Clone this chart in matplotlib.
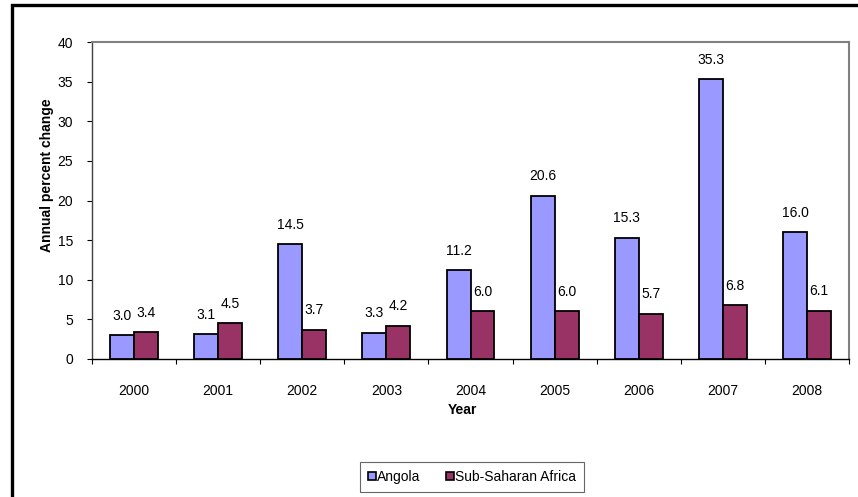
import matplotlib
matplotlib.use("Agg")
import matplotlib.pyplot as plt
import numpy as np
from matplotlib.patches import Rectangle
from matplotlib.lines import Line2D

years = ["2000", "2001", "2002", "2003", "2004", "2005", "2006", "2007", "2008"]
angola = [3.0, 3.1, 14.5, 3.3, 11.2, 20.6, 15.3, 35.3, 16.0]
ssa = [3.4, 4.5, 3.7, 4.2, 6.0, 6.0, 5.7, 6.8, 6.1]
series_names = ["Angola", "Sub-Saharan Africa"]
colors = ["#9999FF", "#993366"]

plt.rcParams['font.family'] = ['Liberation Sans', 'DejaVu Sans']
FS = 10

W, H = 858, 497
fig = plt.figure(figsize=(W / 100, H / 100), dpi=100)
ax = fig.add_axes([92 / W, 1 - 359 / H, (849 - 92) / W, (359 - 42) / H])

x = np.arange(len(years))
bw = 0.285
b1 = ax.bar(x - bw / 2, angola, bw, color=colors[0], edgecolor='black', linewidth=1.3, zorder=3)
b2 = ax.bar(x + bw / 2, ssa, bw, color=colors[1], edgecolor='black', linewidth=1.3, zorder=3)

for bars, vals in ((b1, angola), (b2, ssa)):
    for r, v in zip(bars, vals):
        ax.annotate(f"{v:.1f}", (r.get_x() + r.get_width() / 2, v), xytext=(0, 14),
                    textcoords='offset points', ha='center', va='center', fontsize=FS)

ax.set_xlim(-0.5, len(years) - 0.5)
ax.set_ylim(0, 40)
ax.set_yticks(np.arange(0, 41, 5))
ax.tick_params(axis='y', direction='out', length=3.5, width=0.8, pad=10, labelsize=FS)
ax.set_xticks(x)
ax.set_xticklabels(years)
ax.tick_params(axis='x', which='major', length=0, pad=18, labelsize=FS)
ax.set_xticks(np.arange(-0.5, len(years), 1), minor=True)
ax.tick_params(axis='x', which='minor', direction='out', length=3.5, width=0.8)

for s in ('top', 'right'):
    ax.spines[s].set_color('#808080')
    ax.spines[s].set_linewidth(1.5)
ax.spines['left'].set_color('#404040')
ax.spines['left'].set_linewidth(1.0)
ax.spines['bottom'].set_color('black')
ax.spines['bottom'].set_linewidth(1.0)

fig.text(47 / W, 1 - 175 / H, "Annual percent change", rotation=90, ha='center', va='center',
         fontsize=FS, fontweight='bold')
fig.text(462 / W, 1 - 410 / H, "Year", ha='center', va='center', fontsize=FS, fontweight='bold')

handles = [Line2D([], [], marker='s', linestyle='none', markersize=6, markerfacecolor=c,
                  markeredgecolor='black', markeredgewidth=1.2) for c in colors]
leg = fig.legend(handles, series_names, loc='center', bbox_to_anchor=(472 / W, 1 - 477 / H),
                 ncol=2, fontsize=FS, frameon=True, fancybox=False, handlelength=0.6,
                 handletextpad=0.05, columnspacing=1.8, borderpad=0.6, borderaxespad=0,
                 edgecolor='#404040')
leg.get_frame().set_linewidth(0.8)

fig.patches.append(Rectangle((12 / W, -0.1), 1.2, (1 - 5 / H) + 0.1, transform=fig.transFigure,
                             fill=False, edgecolor='black', linewidth=2.4))

fig.savefig("out.png", dpi=100)
